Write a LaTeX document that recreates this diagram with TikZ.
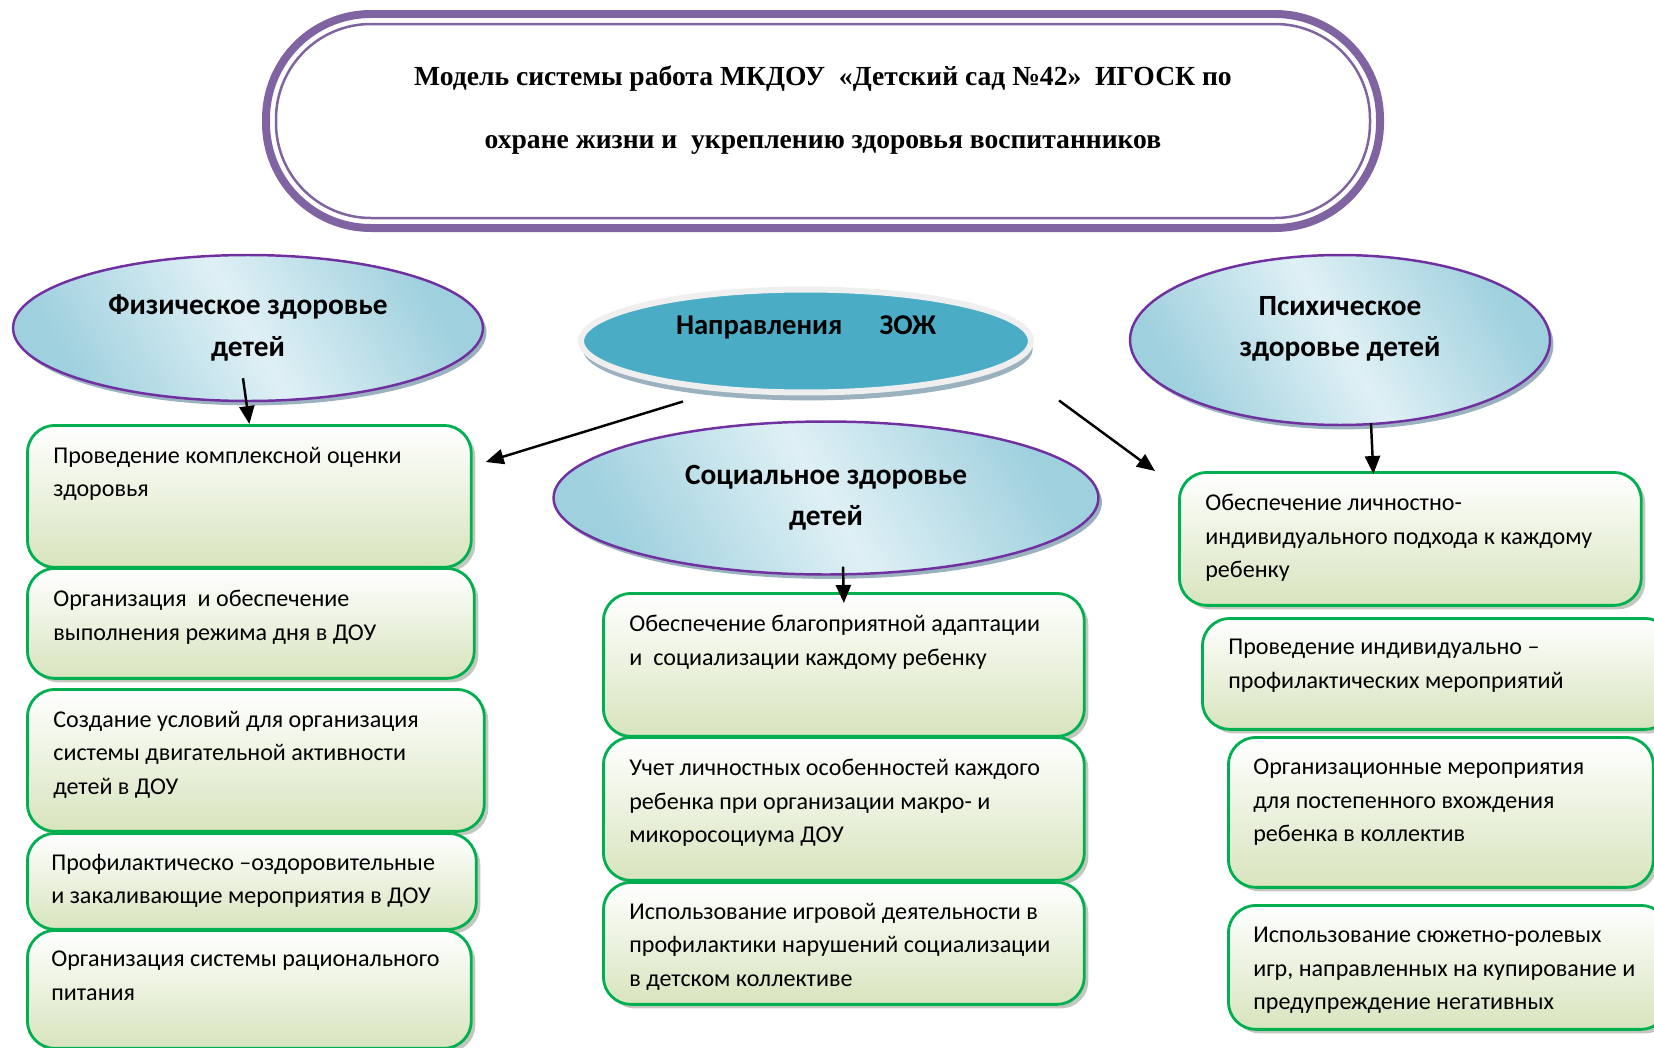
\documentclass[tikz,border=0pt]{standalone}
\usepackage{fontspec}
\setmainfont{Carlito}
\newfontfamily\titlefont{Liberation Serif}
\usepackage{tikz}
\usetikzlibrary{shapes.geometric, arrows.meta, positioning, shadows}

\definecolor{titlepurple}{HTML}{8064A2}
\definecolor{ovalline}{HTML}{7030A0}
\definecolor{ovaldark}{HTML}{9FD0DE}
\definecolor{ovallight}{HTML}{DFF0F5}
\definecolor{ovalshadow}{HTML}{8FA9B8}
\definecolor{zojteal}{HTML}{4BACC6}
\definecolor{zojrim}{HTML}{EFEFEF}
\definecolor{boxline}{HTML}{00B050}
\definecolor{boxfill}{HTML}{D7E4BD}
\definecolor{boxshadow}{HTML}{B5B9AE}

\tikzset{
  oval/.style={ellipse, draw=ovalline, line width=1.4pt, inner sep=0pt, align=center,
    left color=ovaldark, right color=ovaldark, middle color=ovallight, shading angle=120,
    drop shadow={shadow xshift=2pt, shadow yshift=-2.5pt, fill=ovalshadow, opacity=0.9},
    font=\bfseries\fontsize{16.7}{23.5}\selectfont},
  zojoval/.style={ellipse, draw=zojrim, line width=0.12cm, fill=zojteal, inner sep=0pt,
    drop shadow={shadow xshift=1pt, shadow yshift=-4.5pt, fill=ovalshadow, opacity=0.9},
    font=\bfseries\fontsize{16.3}{23}\selectfont},
  box/.style={rectangle, rounded corners=0.55cm, draw=boxline, line width=1.6pt, anchor=north west,
    top color=white, bottom color=boxfill,
    drop shadow={shadow xshift=2.3pt, shadow yshift=-2.3pt, fill=boxshadow, opacity=0.8}},
  boxtext/.style={inner sep=0pt, align=left, font=\fontsize{13.7}{19}\selectfont},
  arrow/.style={line width=1.4pt, -{Triangle[length=0.36cm, width=0.3cm]}}
}

\begin{document}
\begin{tikzpicture}[x=0.02cm, y=-0.02cm]
\useasboundingbox (0,0) rectangle (1654,1048);
\clip (0,0) rectangle (1654,1048);

% title frame
\draw[titlepurple, line width=0.16cm, rounded corners=2.1cm] (266,14) rectangle (1380,228);
\draw[titlepurple, line width=0.05cm, rounded corners=1.9cm] (276,24) rectangle (1370,218);
\node[align=center, font=\titlefont\bfseries\fontsize{15.7}{36}\selectfont] (title) at (823,110)
  {Модель системы работа МКДОУ\ \ «Детский сад №42»\ \ ИГОСК по\\охране жизни и\ \ укреплению здоровья воспитанников};

% ovals
\node[oval, minimum width=9.4cm, minimum height=2.92cm] (phys) at (248,328) {Физическое здоровье\\детей};
\node[zojoval, minimum width=9.0cm, minimum height=2.06cm, text depth=0.62cm] (zoj) at (806,341) {Направления\hspace{1.3em}ЗОЖ};
\node[oval, minimum width=10.9cm, minimum height=3.06cm] (soc) at (826,498) {Социальное здоровье\\детей};
\node[oval, minimum width=8.4cm, minimum height=3.4cm, text depth=0.55cm] (psy) at (1340,340) {Психическое\\здоровье детей};

% left column
\node[box, minimum width=8.88cm, minimum height=2.84cm] (L1) at (26,424) {};
\node[boxtext, below right=0.46cm and 0.54cm of L1.north west] (L1t) {Проведение комплексной оценки\\здоровья};
\node[box, minimum width=8.94cm, minimum height=2.2cm] (L2) at (26,567) {};
\node[boxtext, below right=0.46cm and 0.54cm of L2.north west] (L2t) {Организация\ \ и обеспечение\\выполнения режима дня в ДОУ};
\node[box, minimum width=9.14cm, minimum height=2.84cm] (L3) at (26,688) {};
\node[boxtext, below right=0.46cm and 0.54cm of L3.north west] (L3t) {Создание условий для организация\\системы двигательной активности\\детей в ДОУ};
\node[box, minimum width=8.98cm, minimum height=1.92cm] (L4) at (26,832) {};
\node[boxtext, below right=0.44cm and 0.50cm of L4.north west] (L4t) {Профилактическо –оздоровительные\\и закаливающие мероприятия в ДОУ};
\node[box, minimum width=8.88cm, minimum height=2.36cm] (L5) at (26,929) {};
\node[boxtext, below right=0.44cm and 0.50cm of L5.north west] (L5t) {Организация системы рационального\\питания};

% middle column
\node[box, minimum width=9.62cm, minimum height=2.86cm] (M1) at (602,592) {};
\node[boxtext, below right=0.46cm and 0.54cm of M1.north west] (M1t) {Обеспечение благоприятной адаптации\\и\ \ социализации каждому ребенку};
\node[box, minimum width=9.62cm, minimum height=2.86cm] (M2) at (602,736) {};
\node[boxtext, below right=0.46cm and 0.54cm of M2.north west] (M2t) {Учет личностных особенностей каждого\\ребенка при организации макро- и\\микоросоциума ДОУ};
\node[box, minimum width=9.62cm, minimum height=2.44cm] (M3) at (602,881) {};
\node[boxtext, below right=0.44cm and 0.54cm of M3.north west] (M3t) {Использование игровой деятельности в\\профилактики нарушений социализации\\в детском коллективе};

% right column
\node[box, minimum width=9.24cm, minimum height=2.66cm] (R1) at (1178,471) {};
\node[boxtext, below right=0.46cm and 0.54cm of R1.north west] (R1t) {Обеспечение личностно-\\индивидуального подхода к каждому\\ребенку};
\node[box, minimum width=9.4cm, minimum height=2.22cm] (R2) at (1201,617) {};
\node[boxtext, below right=0.44cm and 0.54cm of R2.north west] (R2t) {Проведение индивидуально –\\профилактических мероприятий};
\node[box, minimum width=8.5cm, minimum height=3cm] (R3) at (1227,736) {};
\node[boxtext, below right=0.46cm and 0.52cm of R3.north west] (R3t) {Организационные мероприятия\\для постепенного вхождения\\ребенка в коллектив};
\node[box, minimum width=8.8cm, minimum height=2.48cm] (R4) at (1227,904) {};
\node[boxtext, below right=0.46cm and 0.52cm of R4.north west] (R4t) {Использование сюжетно-ролевых\\игр, направленных на купирование и\\предупреждение негативных};

% arrows
\draw[arrow] ([shift={(-5,-24)}]phys.south) -- (L1.north);
\draw[arrow] ([shift={(-123,6)}]zoj.south) -- ([shift={(13,38)}]L1.north east);
\draw[arrow] ([shift={(253,5)}]zoj.south) -- ([shift={(-23,0)}]R1.north west);
\draw[arrow] ([shift={(17,-9)}]soc.south) -- ([shift={(0,11)}]M1.north);
\draw[arrow] ([shift={(31,-3)}]psy.south) -- ([shift={(-37,3)}]R1.north);
\end{tikzpicture}
\end{document}
